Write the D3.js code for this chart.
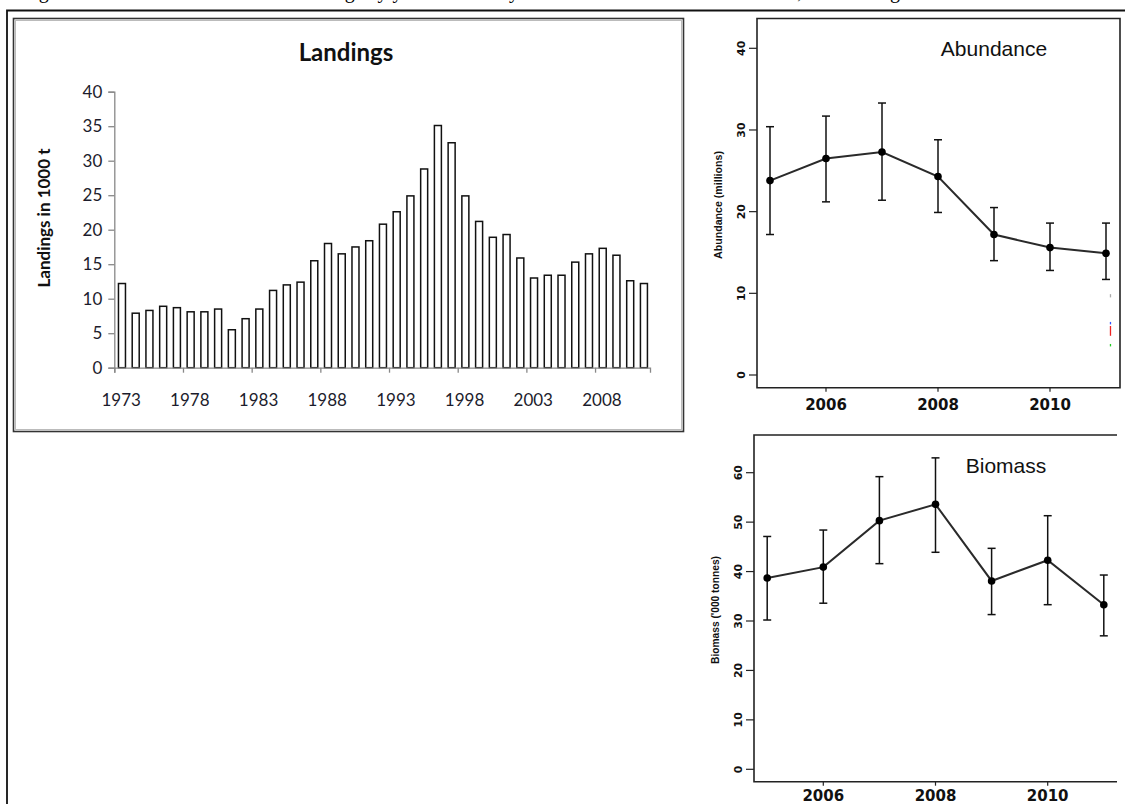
<!DOCTYPE html>
<html>
<head>
<meta charset="utf-8">
<script src="https://cdn.jsdelivr.net/npm/d3@7/dist/d3.min.js"></script>
<style>
body { margin: 0; background: #fff; }
svg { display: block; }
</style>
</head>
<body>
<div id="chart-container"></div>
<script>
// Landings (1000 t) per year
const landingYears = [1973, 1974, 1975, 1976, 1977, 1978, 1979, 1980, 1981, 1982,
    1983, 1984, 1985, 1986, 1987, 1988, 1989, 1990, 1991, 1992,
    1993, 1994, 1995, 1996, 1997, 1998, 1999, 2000, 2001, 2002,
    2003, 2004, 2005, 2006, 2007, 2008, 2009, 2010, 2011];
const landings = [12.2, 7.9, 8.3, 8.9, 8.7, 8.1, 8.1, 8.5, 5.5, 7.1,
    8.5, 11.2, 12.0, 12.4, 15.5, 18.0, 16.5, 17.5, 18.4, 20.8,
    22.6, 24.9, 28.8, 35.1, 32.6, 24.9, 21.2, 18.9, 19.3, 15.9,
    13.0, 13.4, 13.4, 15.3, 16.5, 17.3, 16.3, 12.6, 12.2];
const landingLabelYears = [1973, 1978, 1983, 1988, 1993, 1998, 2003, 2008];
const landingTicks = [0, 5, 10, 15, 20, 25, 30, 35, 40];

// Survey indices with error bars
const surveyYears = [2005, 2006, 2007, 2008, 2009, 2010, 2011];
const abundance = [23.8, 26.5, 27.3, 24.3, 17.2, 15.6, 14.9];
const abundanceLow = [17.2, 21.2, 21.4, 19.9, 14.0, 12.8, 11.7];
const abundanceHigh = [30.4, 31.7, 33.3, 28.8, 20.5, 18.6, 18.6];
const biomass = [38.7, 40.9, 50.3, 53.6, 38.1, 42.3, 33.3];
const biomassLow = [30.2, 33.6, 41.6, 43.9, 31.3, 33.3, 27.0];
const biomassHigh = [47.1, 48.4, 59.2, 63.0, 44.7, 51.3, 39.3];
const surveyTickYears = [2006, 2008, 2010];
const abundanceTicks = [0, 10, 20, 30, 40];
const biomassTicks = [0, 10, 20, 30, 40, 50, 60];

const W = 1125, H = 804;

const svg = d3.select("#chart-container")
    .append("svg")
    .attr("width", W)
    .attr("height", H);

svg.append("rect").attr("width", W).attr("height", H).attr("fill", "#fff");

// caption line of the page, only its lowest strokes are inside the picture
svg.append("text")
    .attr("x", 22)
    .attr("y", -2)
    .style("font-family", "'Liberation Serif', serif")
    .style("font-size", "20px")
    .text("Figure 4.5.2  Haddock in Rockall: landings by year and survey indices of abundance and biomass, Rockall region");

// outer frame
svg.append("path")
    .attr("d", `M7,${H} V10.5 H${W}`)
    .attr("fill", "none")
    .attr("stroke", "#111")
    .attr("stroke-width", 1.8);

// ---------- Landings panel ----------
svg.append("rect")
    .attr("x", 13.5).attr("y", 18.5)
    .attr("width", 670).attr("height", 413)
    .attr("fill", "none")
    .attr("stroke", "#333")
    .attr("stroke-width", 1.6);
svg.append("rect")
    .attr("x", 15.5).attr("y", 20.5)
    .attr("width", 666).attr("height", 409)
    .attr("fill", "none")
    .attr("stroke", "#bbb")
    .attr("stroke-width", 1);

const lx0 = 114.3, lx1 = 650, ly0 = 367.7, ly1 = 91.7;

const xBand = d3.scaleBand().domain(landingYears).range([lx0, lx1]);
const xEdge = d3.scaleLinear().domain([0, landingYears.length]).range([lx0, lx1]);
const yL = d3.scaleLinear().domain([0, 40]).range([ly0, ly1]);

const landG = svg.append("g");

landG.append("text")
    .attr("x", 346)
    .attr("y", 61)
    .attr("text-anchor", "middle")
    .style("font-family", "Lato, 'Open Sans', sans-serif")
    .style("font-size", "24px")
    .style("font-weight", "bold")
    .style("fill", "#111")
    .text("Landings");

landG.append("text")
    .attr("transform", `translate(50,218) rotate(-90)`)
    .attr("text-anchor", "middle")
    .style("font-family", "Lato, 'Open Sans', sans-serif")
    .style("font-size", "17px")
    .style("font-weight", "bold")
    .style("fill", "#111")
    .text("Landings in 1000 t");

// bars
const barW = 7;
landG.selectAll("rect.bar")
    .data(landingYears)
    .join("rect")
    .attr("class", "bar")
    .attr("x", (d) => xBand(d) + xBand.bandwidth() / 2 - barW / 2 + 0.8)
    .attr("y", (d, i) => yL(landings[i]))
    .attr("width", barW)
    .attr("height", (d, i) => ly0 - yL(landings[i]))
    .attr("fill", "#fff")
    .attr("stroke", "#111")
    .attr("stroke-width", 1.5);

// y axis
const yAxisL = landG.append("g")
    .attr("transform", `translate(${lx0},0)`)
    .call(d3.axisLeft(yL).tickValues(landingTicks).tickSize(6).tickPadding(6));
yAxisL.select(".domain").attr("stroke", "#888").attr("stroke-width", 1.3);
yAxisL.selectAll(".tick line").attr("stroke", "#888").attr("stroke-width", 1.3);
yAxisL.selectAll(".tick text")
    .style("font-family", "Lato, 'Open Sans', sans-serif")
    .style("font-size", "17px")
    .style("fill", "#1c1c2c");

// x axis: ticks between categories, labels centered on categories
const xAxisL = landG.append("g")
    .attr("transform", `translate(0,${ly0})`)
    .call(d3.axisBottom(xEdge)
        .tickValues(landingLabelYears.map((y) => landingYears.indexOf(y)))
        .tickSize(5)
        .tickFormat(""));
xAxisL.select(".domain").attr("stroke", "#888").attr("stroke-width", 1.3);
xAxisL.selectAll(".tick line").attr("stroke", "#888").attr("stroke-width", 1.3);

landG.append("g")
    .selectAll("text")
    .data(landingLabelYears)
    .join("text")
    .attr("x", (d) => xBand(d) + xBand.bandwidth() / 2)
    .attr("y", 406)
    .attr("text-anchor", "middle")
    .style("font-family", "Lato, 'Open Sans', sans-serif")
    .style("font-size", "17px")
    .style("fill", "#1c1c2c")
    .text((d) => d);

// ---------- Survey panels (R style) ----------
function drawSurvey(opt) {
    const g = svg.append("g");
    const x = d3.scaleLinear().domain([2006, 2010]).range(opt.xRange);
    const y = d3.scaleLinear().domain([0, opt.yTicks[opt.yTicks.length - 1]]).range(opt.yRange);
    const [bx0, by0, bx1, by1] = opt.box;

    // box
    const boxPath = opt.openRight
        ? `M${bx1},${by0} H${bx0} V${by1} H${bx1}`
        : `M${bx0},${by0} H${bx1} V${by1} H${bx0} Z`;
    g.append("path")
        .attr("d", boxPath)
        .attr("fill", "none")
        .attr("stroke", "#222")
        .attr("stroke-width", 1.6);

    // y ticks
    const yt = g.append("g");
    yt.selectAll("line")
        .data(opt.yTicks)
        .join("line")
        .attr("x1", bx0 - 8).attr("x2", bx0)
        .attr("y1", (d) => y(d)).attr("y2", (d) => y(d))
        .attr("stroke", "#222")
        .attr("stroke-width", 1.2);
    yt.selectAll("text")
        .data(opt.yTicks)
        .join("text")
        .attr("transform", (d) => `translate(${bx0 - 12},${y(d)}) rotate(-90)`)
        .attr("text-anchor", "middle")
        .style("font-family", "'DejaVu Sans', sans-serif")
        .style("font-size", "11px")
        .style("font-weight", "bold")
        .style("fill", "#111")
        .text((d) => d);

    // x ticks
    const xt = g.append("g");
    xt.selectAll("line")
        .data(surveyTickYears)
        .join("line")
        .attr("x1", (d) => x(d)).attr("x2", (d) => x(d))
        .attr("y1", by1).attr("y2", by1 + 4)
        .attr("stroke", "#222")
        .attr("stroke-width", 1.2);
    xt.selectAll("text")
        .data(surveyTickYears)
        .join("text")
        .attr("x", (d) => x(d))
        .attr("y", opt.xLabelY)
        .attr("text-anchor", "middle")
        .style("font-family", "'DejaVu Sans', sans-serif")
        .style("font-size", "15px")
        .style("font-weight", "bold")
        .style("fill", "#111")
        .text((d) => d);

    // axis title
    g.append("text")
        .attr("transform", `translate(${opt.ylabelX},${opt.ylabelY}) rotate(-90)`)
        .attr("text-anchor", "middle")
        .attr("textLength", 108)
        .attr("lengthAdjust", "spacingAndGlyphs")
        .style("font-family", "'Liberation Sans Narrow', 'Liberation Sans', sans-serif")
        .style("font-size", "10px")
        .style("font-weight", "bold")
        .style("fill", "#111")
        .text(opt.ylabel);

    // panel title
    g.append("text")
        .attr("x", opt.titleX)
        .attr("y", opt.titleY)
        .attr("text-anchor", "middle")
        .style("font-family", "'Liberation Sans', Arial, sans-serif")
        .style("font-size", "21px")
        .style("fill", "#111")
        .text(opt.title);

    // error bars
    const eb = g.append("g").attr("stroke", "#111").attr("stroke-width", 1.5);
    surveyYears.forEach((yr, i) => {
        const cx = x(yr);
        eb.append("line")
            .attr("x1", cx).attr("x2", cx)
            .attr("y1", y(opt.low[i])).attr("y2", y(opt.high[i]));
        eb.append("line")
            .attr("x1", cx - 4).attr("x2", cx + 4)
            .attr("y1", y(opt.low[i])).attr("y2", y(opt.low[i]));
        eb.append("line")
            .attr("x1", cx - 4).attr("x2", cx + 4)
            .attr("y1", y(opt.high[i])).attr("y2", y(opt.high[i]));
    });

    // line + points
    const line = d3.line()
        .x((d) => x(d))
        .y((d, i) => y(opt.values[i]));
    g.append("path")
        .datum(surveyYears)
        .attr("d", line)
        .attr("fill", "none")
        .attr("stroke", "#2a2a2a")
        .attr("stroke-width", 2);
    g.selectAll("circle")
        .data(surveyYears)
        .join("circle")
        .attr("cx", (d) => x(d))
        .attr("cy", (d, i) => y(opt.values[i]))
        .attr("r", 3.8)
        .attr("fill", "#000");

    return { x, y, g };
}

const ab = drawSurvey({
    box: [757, 18.5, 1120, 387.7],
    xRange: [826, 1050],
    yRange: [375, 48.3],
    yTicks: abundanceTicks,
    values: abundance, low: abundanceLow, high: abundanceHigh,
    title: "Abundance", titleX: 994, titleY: 56,
    ylabel: "Abundance (millions)", ylabelX: 722, ylabelY: 205,
    xLabelY: 410,
    openRight: false
});

// small coloured remnants at the right edge of the abundance panel
const remnant = [
    { v0: 9.9, v1: 9.5, c: "#aaa" },
    { v0: 6.5, v1: 6.2, c: "#3355ff" },
    { v0: 6.0, v1: 4.8, c: "#ee2222" },
    { v0: 3.8, v1: 3.5, c: "#22cc22" }
];
ab.g.selectAll("line.remnant")
    .data(remnant)
    .join("line")
    .attr("class", "remnant")
    .attr("x1", ab.x(2011.08)).attr("x2", ab.x(2011.08))
    .attr("y1", (d) => ab.y(d.v0)).attr("y2", (d) => ab.y(d.v1))
    .attr("stroke", (d) => d.c)
    .attr("stroke-width", 1.3);

drawSurvey({
    box: [754, 435, 1117, 781.7],
    xRange: [823.3, 1047.7],
    yRange: [769.3, 472.7],
    yTicks: biomassTicks,
    values: biomass, low: biomassLow, high: biomassHigh,
    title: "Biomass", titleX: 1006, titleY: 473,
    ylabel: "Biomass ('000 tonnes)", ylabelX: 719, ylabelY: 610,
    xLabelY: 801,
    openRight: true
});
</script>
</body>
</html>
